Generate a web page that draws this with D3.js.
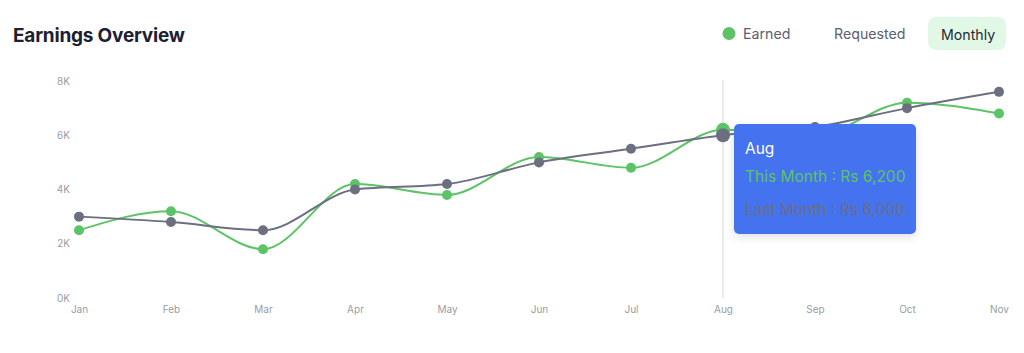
<!DOCTYPE html>
<html>
<head>
<meta charset="utf-8">
<script src="https://cdn.jsdelivr.net/npm/d3@7"></script>
<style>
  html, body { margin: 0; padding: 0; background: #ffffff; }
  body { width: 1024px; height: 353px; overflow: hidden; font-family: Inter, "Noto Sans", sans-serif; }
</style>
</head>
<body>
<svg id="chart" width="1024" height="353"></svg>
<script>
const months = ["Jan","Feb","Mar","Apr","May","Jun","Jul","Aug","Sep","Oct","Nov"];
const earned = [2500, 3200, 1800, 4200, 3800, 5200, 4800, 6200, 6000, 7200, 6800];
const requested = [3000, 2800, 2500, 4000, 4200, 5000, 5500, 6000, 6300, 7000, 7600];
const yTicks = [0, 2000, 4000, 6000, 8000];
const activeIndex = 7;

const svg = d3.select("#chart");
const green = "#5cc466";
const gray = "#6b6f80";

const x = d3.scalePoint().domain(months).range([79, 999]);
const y = d3.scaleLinear().domain([0, 8000]).range([298, 81]);

// Title
svg.append("text").attr("x", 13).attr("y", 42)
  .attr("font-size", 19).attr("font-weight", 700).attr("fill", "#1b2131").attr("letter-spacing", -0.2)
  .text("Earnings Overview");

// Legend
svg.append("circle").attr("cx", 729).attr("cy", 33.5).attr("r", 6.5).attr("fill", green);
svg.append("text").attr("x", 743).attr("y", 39).attr("font-size", 14.2).attr("fill", "#5c6070").text("Earned");
svg.append("text").attr("x", 834).attr("y", 39).attr("font-size", 14.2).attr("fill", "#5c6070").text("Requested");
svg.append("rect").attr("x", 928).attr("y", 17).attr("width", 78).attr("height", 33).attr("rx", 8).attr("fill", "#e2f8e6");
svg.append("text").attr("x", 941).attr("y", 40).attr("font-size", 14.2).attr("fill", "#262b38").text("Monthly");

// Y axis labels
const yAxis = d3.axisLeft(y).tickValues(yTicks).tickFormat(d => (d/1000) + "K").tickSize(0).tickPadding(0);
const gy = svg.append("g").attr("transform", "translate(70,0)").call(yAxis);
gy.select(".domain").remove();
gy.selectAll("text").attr("font-size", 10).attr("fill", "#9a9ca3").attr("font-family", "Inter, 'Noto Sans', sans-serif");

// X axis labels
const xAxis = d3.axisBottom(x).tickSize(0).tickPadding(0);
const gx = svg.append("g").attr("transform", "translate(0,306)").call(xAxis);
gx.select(".domain").remove();
gx.selectAll("text").attr("font-size", 10).attr("fill", "#9a9ca3").attr("font-family", "Inter, 'Noto Sans', sans-serif");

// Crosshair
svg.append("line").attr("x1", x(months[activeIndex])).attr("x2", x(months[activeIndex]))
  .attr("y1", 80).attr("y2", 298).attr("stroke", "#d4d5d9").attr("stroke-width", 1);

const line = d3.line().x((d, i) => x(months[i])).y(d => y(d)).curve(d3.curveMonotoneX);

svg.append("path").datum(earned).attr("d", line).attr("fill", "none").attr("stroke", green).attr("stroke-width", 2);
svg.append("path").datum(requested).attr("d", line).attr("fill", "none").attr("stroke", gray).attr("stroke-width", 2);

svg.append("g").selectAll("circle").data(earned).join("circle")
  .attr("cx", (d, i) => x(months[i])).attr("cy", d => y(d))
  .attr("r", (d, i) => i === activeIndex ? 7 : 5).attr("fill", green);
svg.append("g").selectAll("circle").data(requested).join("circle")
  .attr("cx", (d, i) => x(months[i])).attr("cy", d => y(d))
  .attr("r", (d, i) => i === activeIndex ? 7 : 5).attr("fill", gray);

// Tooltip
const defs = svg.append("defs");
const f = defs.append("filter").attr("id", "sh").attr("x", "-20%").attr("y", "-20%").attr("width", "140%").attr("height", "150%");
f.append("feDropShadow").attr("dx", 0).attr("dy", 3).attr("stdDeviation", 5).attr("flood-color", "#000").attr("flood-opacity", 0.12);

const tx = x(months[activeIndex]) + 11;
const tt = svg.append("g");
tt.append("rect").attr("x", tx).attr("y", 124).attr("width", 182).attr("height", 110).attr("rx", 5)
  .attr("fill", "#4472ee").attr("filter", "url(#sh)");
tt.append("text").attr("x", tx + 11).attr("y", 154).attr("font-size", 15.5).attr("fill", "#ffffff").text(months[activeIndex]);
tt.append("text").attr("x", tx + 11).attr("y", 182).attr("font-size", 15.5).attr("fill", green)
  .text("This Month : Rs " + d3.format(",")(earned[activeIndex]));
tt.append("text").attr("x", tx + 11).attr("y", 215).attr("font-size", 15.5).attr("fill", gray)
  .text("Last Month : Rs " + d3.format(",")(requested[activeIndex]));
</script>
</body>
</html>
